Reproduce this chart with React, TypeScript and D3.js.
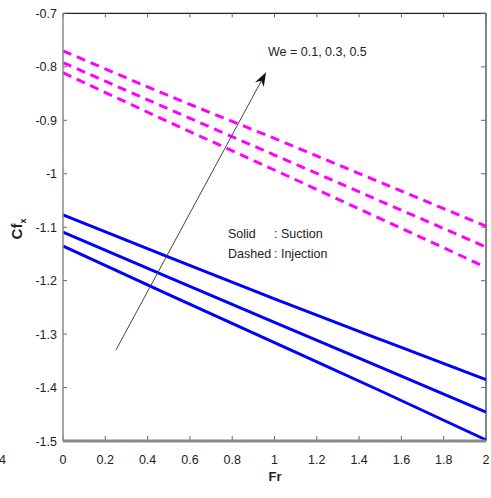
import React from "react";
import * as d3 from "d3";

const frValues = [0, 0.5, 1, 1.5, 2];
const solidSeries = [
  [-1.077, -1.156, -1.234, -1.31, -1.385],
  [-1.109, -1.194, -1.278, -1.362, -1.446],
  [-1.135, -1.226, -1.316, -1.406, -1.498],
];
const dashedSeries = [
  [-0.77, -0.854, -0.934, -1.016, -1.098],
  [-0.792, -0.879, -0.965, -1.051, -1.137],
  [-0.811, -0.903, -0.993, -1.084, -1.175],
];
const xTicks = [0, 0.2, 0.4, 0.6, 0.8, 1, 1.2, 1.4, 1.6, 1.8, 2];
const yTicks = [-0.7, -0.8, -0.9, -1, -1.1, -1.2, -1.3, -1.4, -1.5];
const arrowFrom = [0.25, -1.33];
const arrowTo = [0.96, -0.81];

export default function App() {
  const W = 491, H = 498;
  const x = d3.scaleLinear().domain([0, 2]).range([63, 486]);
  const y = d3.scaleLinear().domain([-1.5, -0.7]).range([441, 13.4]);
  const line = d3
    .line<number>()
    .x((_, i) => x(frValues[i]))
    .y((d) => y(d))
    .curve(d3.curveMonotoneX);
  const font = "'Liberation Sans', Arial, sans-serif";
  const ax1 = x(arrowFrom[0]), ay1 = y(arrowFrom[1]);
  const ax2 = x(arrowTo[0]), ay2 = y(arrowTo[1]);
  const ang = Math.atan2(ay2 - ay1, ax2 - ax1);
  const hl = 14, hw = 5;
  const bx = ax2 - hl * Math.cos(ang), by = ay2 - hl * Math.sin(ang);
  const nx = -Math.sin(ang), ny = Math.cos(ang);
  const mx = ax2 - hl * 0.7 * Math.cos(ang), my = ay2 - hl * 0.7 * Math.sin(ang);
  return (
    <svg
      width={W}
      height={H}
      style={{ position: "absolute", left: 0, top: 0, background: "#fff" }}
      fontFamily={font}
    >
      <line x1={x(0)} x2={x(2)} y1={y(-0.7)} y2={y(-0.7)} stroke="#222" strokeWidth={1.2} />
      <line x1={x(2)} x2={x(2)} y1={y(-0.7)} y2={y(-1.5)} stroke="#333" strokeWidth={1.2} />
      {xTicks.map((t) => (
        <g key={"xt" + t}>
          <line x1={x(t)} x2={x(t)} y1={y(-0.7)} y2={y(-0.7) + 4} stroke="#666" />
          <line x1={x(t)} x2={x(t)} y1={y(-1.5)} y2={y(-1.5) - 5} stroke="#666" />
          <text x={x(t)} y={464} textAnchor="middle" fontSize={12.5} fill="#222">
            {String(t)}
          </text>
        </g>
      ))}
      {yTicks.map((t) => (
        <g key={"yt" + t}>
          <line x1={x(0)} x2={x(0) + 4} y1={y(t)} y2={y(t)} stroke="#666" />
          <line x1={x(2)} x2={x(2) - 5} y1={y(t)} y2={y(t)} stroke="#666" />
          <text x={57} y={y(t) + 4.5} textAnchor="end" fontSize={12.5} fill="#222">
            {String(t)}
          </text>
        </g>
      ))}
      {solidSeries.map((s, i) => (
        <path key={"s" + i} d={line(s) || ""} fill="none" stroke="#0000ff" strokeWidth={3} />
      ))}
      {dashedSeries.map((s, i) => (
        <path
          key={"d" + i}
          d={line(s) || ""}
          fill="none"
          stroke="#ff00ff"
          strokeWidth={3}
          strokeDasharray="9,6"
        />
      ))}
      <line x1={x(0)} x2={x(0)} y1={y(-0.7)} y2={y(-1.5)} stroke="#888" strokeWidth={1.5} />
      <line x1={x(0)} x2={x(2)} y1={y(-1.5)} y2={y(-1.5)} stroke="#888" strokeWidth={3} />
      <line x1={ax1} y1={ay1} x2={mx} y2={my} stroke="#444" strokeWidth={1} />
      <path
        d={`M${ax2},${ay2} L${bx + nx * hw},${by + ny * hw} L${mx},${my} L${bx - nx * hw},${by - ny * hw} Z`}
        fill="#111"
      />
      <text x={268} y={56} fontSize={12.5} fill="#222">
        We = 0.1, 0.3, 0.5
      </text>
      <text x={228} y={238} fontSize={12.5} fill="#222">
        Solid
      </text>
      <text x={274} y={238} fontSize={12.5} fill="#222">
        : Suction
      </text>
      <text x={228} y={258} fontSize={12.5} fill="#222">
        Dashed
      </text>
      <text x={274} y={258} fontSize={12.5} fill="#222">
        : Injection
      </text>
      <text x={275} y={481} textAnchor="middle" fontSize={13} fontWeight="bold" fill="#222">
        Fr
      </text>
      <text
        transform="translate(22,229) rotate(-90)"
        textAnchor="middle"
        fontSize={15}
        fontWeight="bold"
        fill="#222"
      >
        Cf
        <tspan fontSize={9} dy={4}>
          x
        </tspan>
      </text>
      <text x={6} y={464} textAnchor="end" fontSize={12.5} fill="#222">
        4
      </text>
    </svg>
  );
}
